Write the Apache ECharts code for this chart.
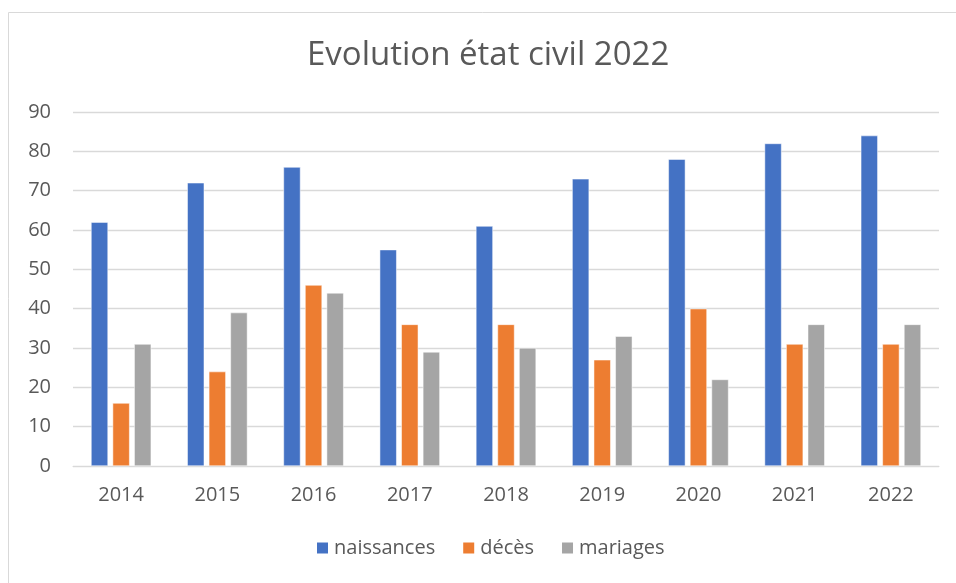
<!DOCTYPE html>
<html><head><meta charset="utf-8">
<script src="https://cdn.jsdelivr.net/npm/echarts@6/dist/echarts.min.js"></script>
<style>html,body{margin:0;padding:0;background:#fff}#c{width:956px;height:583px}</style>
</head><body><div id="c"></div>
<script>
const categories = ['2014','2015','2016','2017','2018','2019','2020','2021','2022'];
const naissances = [62,72,76,55,61,73,78,82,84];
const deces = [16,24,46,36,36,27,40,31,31];
const mariages = [31,39,44,29,30,33,22,36,36];
const yTicks = [0,10,20,30,40,50,60,70,80,90];

const chart = echarts.init(document.getElementById('c'));
const font = '"Open Sans", sans-serif';
const mk = (name, data, color) => ({
  name, type:'bar', data, barWidth:17, barGap:'27%',
  itemStyle:{color, borderColor:'#fff', borderWidth:0.5}
});
chart.setOption({
  animation:false,
  color:['#4472C4','#ED7D31','#A5A5A5'],
  graphic:[{type:'rect', shape:{x:8.5,y:12.5,width:960,height:600}, style:{fill:'none',stroke:'#d9d9d9',lineWidth:1}, silent:true}],
  title:{text:'Evolution état civil 2022', left:302, top:34,
    textStyle:{fontFamily:font, fontWeight:400, fontSize:33, color:'#595959'}},
  legend:{bottom:20, left:310, itemWidth:13, itemHeight:13, itemGap:26, icon:'rect',
    textStyle:{fontFamily:font, fontSize:20, color:'#595959'},
    data:['naissances','décès','mariages']},
  grid:{left:73, right:17, top:112, bottom:117},
  xAxis:{type:'category', data:categories,
    axisLine:{lineStyle:{color:'#d9d9d9', width:1}}, axisTick:{show:false},
    axisLabel:{fontFamily:font, fontSize:20, color:'#595959', margin:19}},
  yAxis:{type:'value', min:yTicks[0], max:yTicks[yTicks.length-1], interval:10,
    axisLine:{show:false}, axisTick:{show:false},
    splitLine:{lineStyle:{color:'#d9d9d9', width:1.3}},
    axisLabel:{fontFamily:font, fontSize:20, color:'#595959', margin:22}},
  series:[mk('naissances',naissances,'#4472C4'), mk('décès',deces,'#ED7D31'), mk('mariages',mariages,'#A5A5A5')]
});
</script></body></html>
